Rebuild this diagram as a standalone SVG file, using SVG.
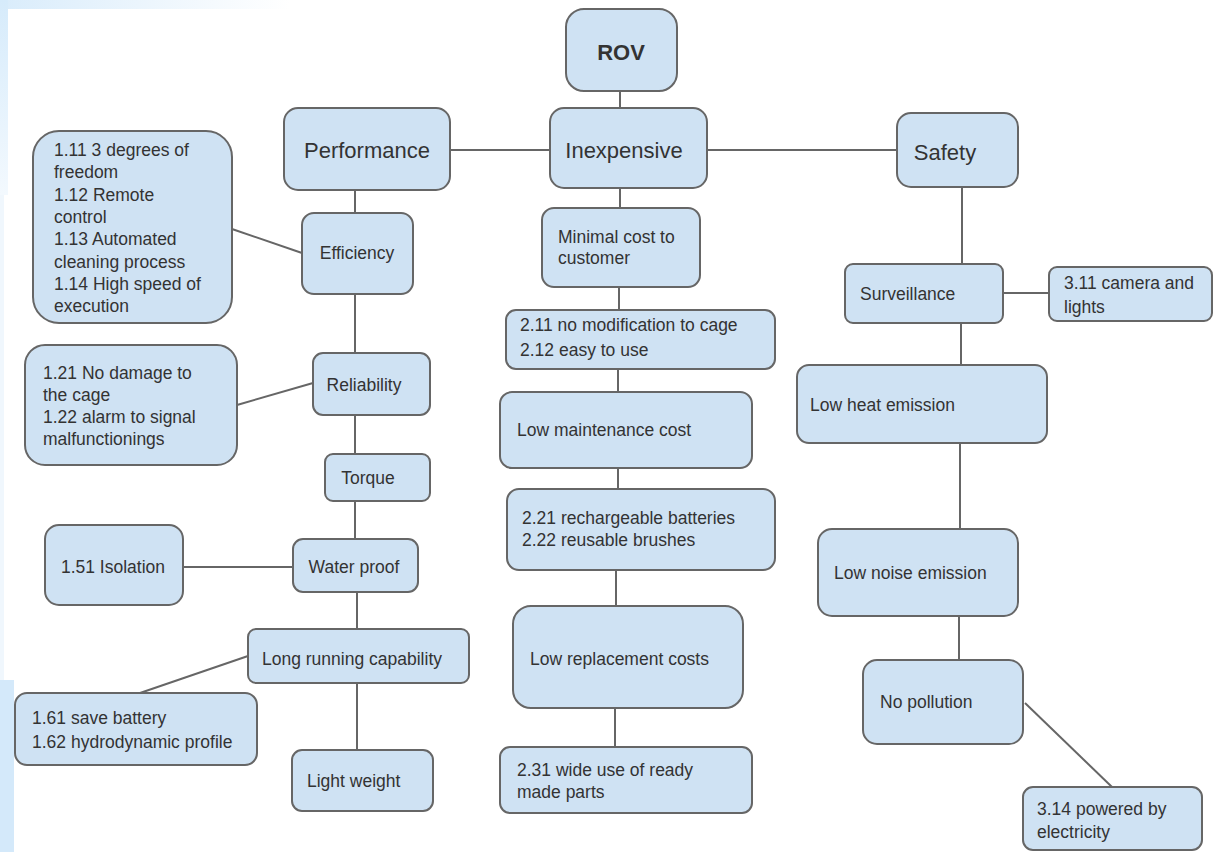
<svg xmlns="http://www.w3.org/2000/svg" width="1213" height="852" viewBox="0 0 1213 852">
<defs>
<linearGradient id="topg" x1="0" y1="0" x2="1" y2="0"><stop offset="0" stop-color="#d9ecfb"/><stop offset="1" stop-color="#ffffff"/></linearGradient>
<linearGradient id="leftg" x1="0" y1="0" x2="0" y2="1"><stop offset="0" stop-color="#d6ebfb"/><stop offset="1" stop-color="#f3f9fe"/></linearGradient>
</defs>
<style>
.n rect{fill:#cfe2f3;stroke:#666;stroke-width:2}
.n text{font-family:"Liberation Sans",Arial,sans-serif;fill:#333;font-size:17.5px}
.n text.big{font-size:22px}
.n text.c{text-anchor:middle}
#connectors line{stroke:#666;stroke-width:2}
</style>
<rect x="0" y="0" width="1213" height="852" fill="#ffffff"/>
<rect x="0" y="0" width="290" height="9" fill="url(#topg)"/>
<rect x="0" y="0" width="8" height="195" fill="url(#leftg)"/>
<rect x="0" y="195" width="4" height="485" fill="#f0f7fd"/>
<rect x="0" y="680" width="14" height="172" fill="#d4e9fa"/>
<g id="connectors">
<line x1="620" y1="91" x2="620" y2="108"/>
<line x1="450" y1="150" x2="550" y2="150"/>
<line x1="707" y1="150" x2="897" y2="150"/>
<line x1="620" y1="188" x2="620" y2="208"/>
<line x1="619" y1="287" x2="619" y2="310"/>
<line x1="618" y1="369" x2="618" y2="392"/>
<line x1="618" y1="468" x2="618" y2="489"/>
<line x1="616" y1="570" x2="616" y2="606"/>
<line x1="615" y1="708" x2="615" y2="747"/>
<line x1="355" y1="190" x2="355" y2="213"/>
<line x1="232" y1="229" x2="302" y2="253"/>
<line x1="355" y1="294" x2="355" y2="353"/>
<line x1="237" y1="405" x2="313" y2="383"/>
<line x1="355" y1="415" x2="355" y2="454"/>
<line x1="355" y1="501" x2="355" y2="539"/>
<line x1="183" y1="567" x2="293" y2="567"/>
<line x1="357" y1="592" x2="357" y2="629"/>
<line x1="248" y1="656" x2="140" y2="693"/>
<line x1="357" y1="683" x2="357" y2="750"/>
<line x1="962" y1="187" x2="962" y2="264"/>
<line x1="1003" y1="293" x2="1049" y2="293"/>
<line x1="961" y1="323" x2="961" y2="365"/>
<line x1="960" y1="443" x2="960" y2="529"/>
<line x1="959" y1="616" x2="959" y2="660"/>
<line x1="1025" y1="703" x2="1112" y2="787"/>
</g>
<g id="rov" class="n"><rect x="566" y="9" width="111" height="82" rx="18"/><text class="big c" x="621" y="60" font-weight="bold">ROV</text></g>
<g id="performance" class="n"><rect x="284" y="108" width="166" height="82" rx="14"/><text class="big c" x="367" y="158">Performance</text></g>
<g id="inexpensive" class="n"><rect x="550" y="108" width="157" height="80" rx="14"/><text class="big c" x="624" y="158">Inexpensive</text></g>
<g id="safety" class="n"><rect x="897" y="113" width="121" height="74" rx="14"/><text class="big c" x="945" y="160">Safety</text></g>
<g id="efficiency" class="n"><rect x="302" y="213" width="111" height="81" rx="12"/><text class="c" x="357" y="259">Efficiency</text></g>
<g id="req111" class="n"><rect x="33" y="131" width="199" height="192" rx="26"/><text x="54" y="156"><tspan x="54">1.11 3 degrees of</tspan><tspan x="54" dy="22.3">freedom</tspan><tspan x="54" dy="22.3">1.12 Remote</tspan><tspan x="54" dy="22.3">control</tspan><tspan x="54" dy="22.3">1.13 Automated</tspan><tspan x="54" dy="22.3">cleaning process</tspan><tspan x="54" dy="22.3">1.14 High speed of</tspan><tspan x="54" dy="22.3">execution</tspan></text></g>
<g id="reliability" class="n"><rect x="313" y="353" width="117" height="62" rx="10"/><text class="c" x="364" y="391">Reliability</text></g>
<g id="req121" class="n"><rect x="25" y="345" width="212" height="120" rx="20"/><text x="43" y="379"><tspan x="43">1.21 No damage to</tspan><tspan x="43" dy="22">the cage</tspan><tspan x="43" dy="22">1.22 alarm to signal</tspan><tspan x="43" dy="22">malfunctionings</tspan></text></g>
<g id="torque" class="n"><rect x="325" y="454" width="105" height="47" rx="8"/><text class="c" x="368" y="484">Torque</text></g>
<g id="waterproof" class="n"><rect x="293" y="539" width="125" height="53" rx="10"/><text class="c" x="354" y="573">Water proof</text></g>
<g id="isolation" class="n"><rect x="45" y="525" width="138" height="80" rx="14"/><text class="c" x="113" y="573">1.51 Isolation</text></g>
<g id="longrun" class="n"><rect x="248" y="629" width="221" height="54" rx="8"/><text x="262" y="665">Long running capability</text></g>
<g id="req161" class="n"><rect x="15" y="693" width="242" height="72" rx="12"/><text x="32" y="724"><tspan x="32">1.61 save battery</tspan><tspan x="32" dy="24">1.62 hydrodynamic profile</tspan></text></g>
<g id="lightweight" class="n"><rect x="292" y="750" width="141" height="61" rx="10"/><text x="307" y="787">Light weight</text></g>
<g id="minimal" class="n"><rect x="542" y="208" width="158" height="79" rx="12"/><text x="558" y="243"><tspan x="558">Minimal cost to</tspan><tspan x="558" dy="21">customer</tspan></text></g>
<g id="req211" class="n"><rect x="506" y="310" width="269" height="59" rx="10"/><text x="520" y="331"><tspan x="520">2.11 no modification to cage</tspan><tspan x="520" dy="25">2.12 easy to use</tspan></text></g>
<g id="lowmaint" class="n"><rect x="500" y="392" width="252" height="76" rx="12"/><text x="517" y="436">Low maintenance cost</text></g>
<g id="req221" class="n"><rect x="507" y="489" width="268" height="81" rx="12"/><text x="522" y="524"><tspan x="522">2.21 rechargeable batteries</tspan><tspan x="522" dy="22">2.22 reusable brushes</tspan></text></g>
<g id="lowrepl" class="n"><rect x="513" y="606" width="230" height="102" rx="18"/><text x="530" y="665">Low replacement costs</text></g>
<g id="req231" class="n"><rect x="500" y="747" width="252" height="66" rx="10"/><text x="517" y="776"><tspan x="517">2.31 wide use of ready</tspan><tspan x="517" dy="22">made parts</tspan></text></g>
<g id="surveillance" class="n"><rect x="845" y="264" width="158" height="59" rx="8"/><text x="860" y="300">Surveillance</text></g>
<g id="req311" class="n"><rect x="1049" y="267" width="163" height="54" rx="8"/><text x="1064" y="289"><tspan x="1064">3.11 camera and</tspan><tspan x="1064" dy="24">lights</tspan></text></g>
<g id="lowheat" class="n"><rect x="797" y="365" width="250" height="78" rx="12"/><text x="810" y="411">Low heat emission</text></g>
<g id="lownoise" class="n"><rect x="818" y="529" width="200" height="87" rx="14"/><text x="834" y="579">Low noise emission</text></g>
<g id="nopollution" class="n"><rect x="863" y="660" width="160" height="84" rx="14"/><text x="880" y="708">No pollution</text></g>
<g id="req314" class="n"><rect x="1023" y="787" width="179" height="63" rx="10"/><text x="1037" y="815"><tspan x="1037">3.14 powered by</tspan><tspan x="1037" dy="23">electricity</tspan></text></g>
</svg>
